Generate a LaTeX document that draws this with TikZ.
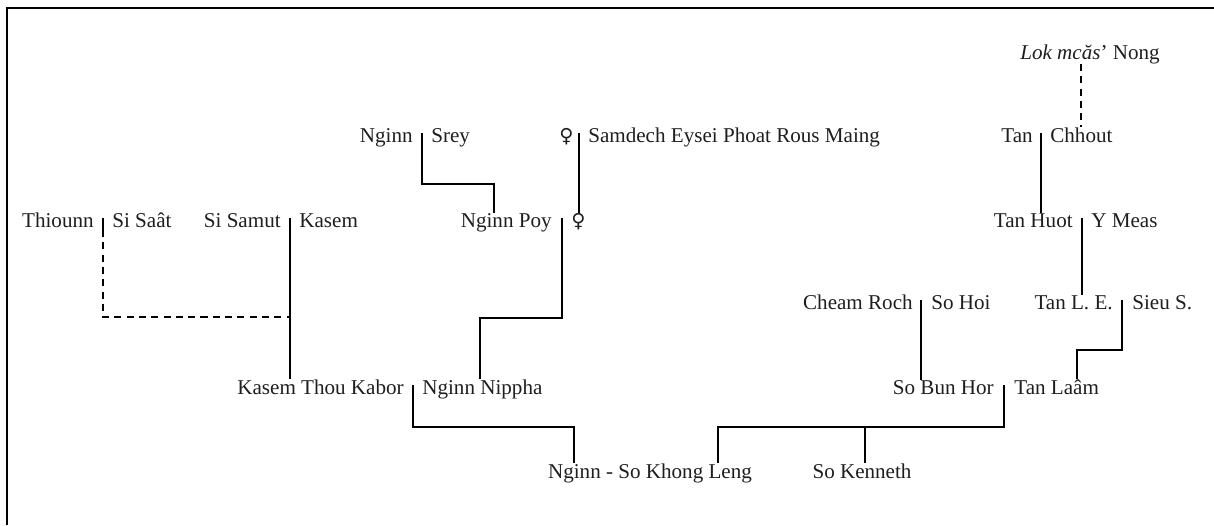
\documentclass[tikz,border=0pt]{standalone}
\usepackage{fontspec}
\setmainfont{Liberation Serif}
\newfontfamily\symfont{DejaVu Sans}
\begin{document}
\begin{tikzpicture}[x=0.02cm, y=-0.02cm, font=\fontsize{12}{14}\selectfont]
    \definecolor{inkColour}{HTML}{1E1E1E}
    \tikzset{
        person/.style={inner sep=0pt, text=inkColour},
        lname/.style={person, anchor=base east},
        rname/.style={person, anchor=base west},
        link/.style={draw=black, line width=1.1pt},
        dashlink/.style={link, dash pattern=on 4pt off 3pt}
    }
    \useasboundingbox (0,0) rectangle (1214,525);

    % Frame
    \draw[line width=1.7pt] (7,525) -- (7,8) -- (1214,8);

    % Top generation
    \node[person, anchor=base] (lok) at (1090,59) {\textit{Lok mcăs}’ Nong};

    % Second row: couples, tick coordinate between the two names
    \coordinate (mNS) at (422,133);
    \node[lname] (nginn) at (413,142) {Nginn};
    \node[rname] (srey) at (431,142) {Srey};
    \coordinate (mSE) at (579,133);
    \node[lname] (femA) at (574,142) {\symfont\fontsize{11}{13}\selectfont ♀};
    \node[rname] (samdech) at (588,142) {Samdech Eysei Phoat Rous Maing};
    \coordinate (mTC) at (1041,133);
    \node[lname] (tan) at (1033,142) {Tan};
    \node[rname] (chhout) at (1050,142) {Chhout};

    % Third row
    \coordinate (mTS) at (103,218);
    \node[lname] (thiounn) at (94,227) {Thiounn};
    \node[rname] (sisaat) at (112,227) {Si Saât};
    \coordinate (mSK) at (290,218);
    \node[lname] (sisamut) at (281,227) {Si Samut};
    \node[rname] (kasem) at (299,227) {Kasem};
    \coordinate (mNP) at (562,218);
    \node[lname] (nginnpoy) at (552,227) {Nginn Poy};
    \node[rname] (femB) at (571,227) {\symfont\fontsize{11}{13}\selectfont ♀};
    \coordinate (mTH) at (1082,218);
    \node[lname] (tanhuot) at (1073,227) {Tan Huot};
    \node[rname] (ymeas) at (1091,227) {Y Meas};

    % Fourth row
    \coordinate (mCS) at (921,300);
    \node[lname] (cheam) at (913,309) {Cheam Roch};
    \node[rname] (sohoi) at (931,309) {So Hoi};
    \coordinate (mTL) at (1122,300);
    \node[lname] (tanle) at (1113,309) {Tan L. E.};
    \node[rname] (sieu) at (1132,309) {Sieu S.};

    % Fifth row
    \coordinate (mKN) at (413,385);
    \node[lname] (kabor) at (404,394) {Kasem Thou Kabor};
    \node[rname] (nippha) at (422,394) {Nginn Nippha};
    \coordinate (mBL) at (1004,385);
    \node[lname] (bunhor) at (994,394) {So Bun Hor};
    \node[rname] (laam) at (1014,394) {Tan Laâm};

    % Children
    \node[person, anchor=base] (khongleng) at (650,478) {Nginn - So Khong Leng};
    \node[person, anchor=base] (kenneth) at (862,478) {So Kenneth};

    % Bends of the connectors
    \coordinate (bNS) at (494,184);
    \coordinate (bNP) at (480,318);
    \coordinate (bTS) at (290,317);
    \coordinate (bTL) at (1077,350);
    \coordinate (bKN) at (574,427);
    \coordinate (bBL) at (718,427);
    \coordinate (bKE) at (865,427);

    % Descent lines
    \draw[dashlink] (chhout.north |- lok.south) -- (chhout.north);
    \draw[link] (mNS) |- (bNS) -- (bNS |- nginnpoy.north);
    \draw[link] (mSE) -- (mSE |- femB.north);
    \draw[link] (mTC) -- (mTC |- tanhuot.north);
    \draw[link] (mTS) -- ++(0,12);
    \draw[dashlink] ([yshift=-12*0.02cm]mTS) |- (bTS);
    \draw[link] (mSK) -- (mSK |- kabor.north);
    \draw[link] (mNP) |- (bNP) -- (bNP |- nippha.north);
    \draw[link] (mTH) -- (mTH |- tanle.north);
    \draw[link] (mCS) -- (mCS |- bunhor.north);
    \draw[link] (mTL) |- (bTL) -- (bTL |- laam.north);
    \draw[link] (mKN) |- (bKN) -- (bKN |- khongleng.north);
    \draw[link] (mBL) |- (bBL) -- (bBL |- khongleng.north);
    \draw[link] (bKE) -- (bKE |- kenneth.north);

\end{tikzpicture}
\end{document}
